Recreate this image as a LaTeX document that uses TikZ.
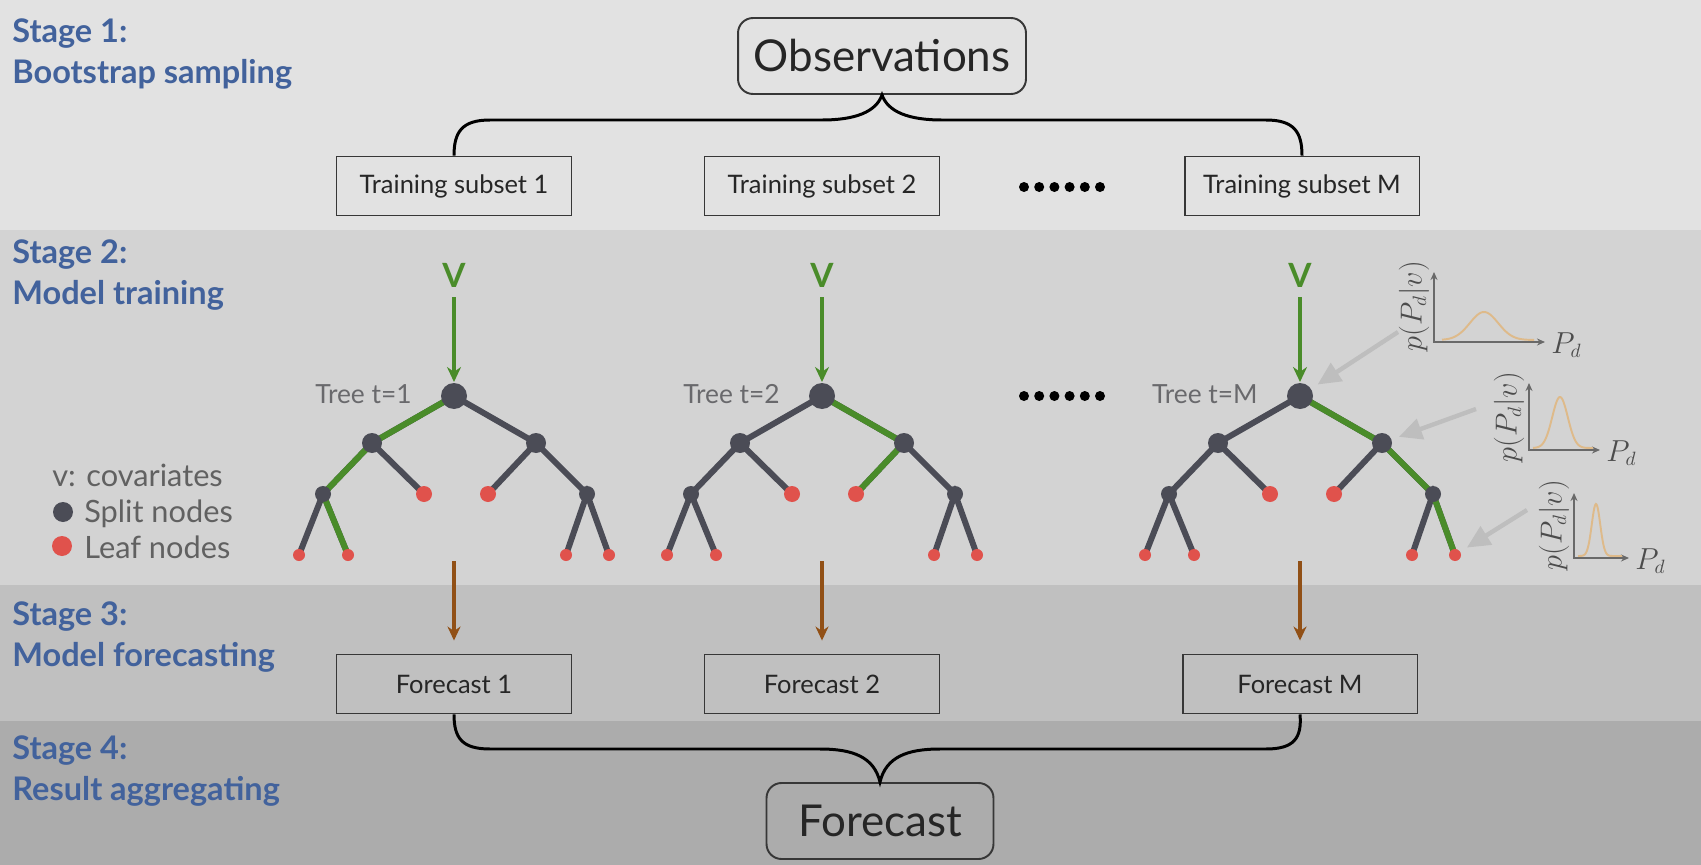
\documentclass[tikz,border=0pt]{standalone}
\usepackage{fontspec}
\setmainfont{Lato}
\usetikzlibrary{arrows.meta,positioning}

\definecolor{bandA}{RGB}{226,226,226}
\definecolor{bandB}{RGB}{211,211,211}
\definecolor{bandC}{RGB}{192,192,192}
\definecolor{bandD}{RGB}{172,172,172}
\definecolor{stageblue}{RGB}{66,98,156}
\definecolor{pathgreen}{RGB}{74,140,42}
\definecolor{splitgray}{RGB}{75,76,86}
\definecolor{leafred}{RGB}{224,82,76}
\definecolor{outbrown}{RGB}{145,80,22}
\definecolor{pointgray}{RGB}{190,190,190}
\definecolor{curvetan}{RGB}{222,186,138}
\definecolor{labelgray}{RGB}{105,105,108}
\definecolor{boxline}{RGB}{55,55,55}
\definecolor{axisgray}{RGB}{105,105,105}

\tikzset{
  stagelabel/.style={anchor=west, align=left, text=stageblue, font=\fontsize{18.5}{23}\selectfont\bfseries},
  subsetbox/.style={draw=boxline, line width=1.1pt, minimum width=4.7cm, minimum height=1.18cm, text=black!85, font=\fontsize{14.5}{17}\selectfont},
  roundbox/.style={subsetbox, rounded corners=0.3cm, minimum height=1.52cm, font=\fontsize{25}{30}\selectfont},
  edge/.style={splitgray, line width=3.4pt},
  hit/.style={pathgreen, line width=3.4pt, line join=round},
  brace/.style={black, line width=1.7pt},
  vlabel/.style={text=pathgreen, font=\fontsize{19}{22}\selectfont\bfseries},
  vin/.style={pathgreen, line width=2.2pt, -{Stealth[length=0.3cm, width=0.28cm]}, shorten <=0.2cm, shorten >=0.28cm},
  outarrow/.style={outbrown, line width=2pt, -{Stealth[length=0.28cm, width=0.26cm]}, shorten >=0.26cm},
  treelabel/.style={anchor=east, text=labelgray, font=\fontsize{15}{17}\selectfont},
  legendtext/.style={anchor=west, text=black!62, font=\fontsize{17.5}{20}\selectfont},
  axis/.style={axisgray, line width=1.1pt, {Stealth[length=0.16cm, width=0.14cm]}-{Stealth[length=0.16cm, width=0.14cm]}},
  axislabel/.style={text=black!70, font=\fontsize{16}{18}\selectfont},
  sidelabel/.style={axislabel, rotate=90, font=\fontsize{16}{18}\selectfont},
  curve/.style={curvetan, line width=1.1pt},
  pointer/.style={pointgray, line width=2.5pt, -{Triangle[length=0.46cm, width=0.42cm]}}
}

\begin{document}
\begin{tikzpicture}[x=0.02cm,y=0.02cm]
\tikzstyle{every node}+=[inner sep=0pt]
\useasboundingbox (0,0) rectangle (1701,-865);
\fill [bandA] (0,0) rectangle (1701,-230);
\fill [bandB] (0,-230) rectangle (1701,-585);
\fill [bandC] (0,-585) rectangle (1701,-721);
\fill [bandD] (0,-721) rectangle (1701,-865);

\node [stagelabel] (st1) at (12,-54) {Stage 1:\\Bootstrap sampling};
\node [stagelabel] (st2) at (12,-275) {Stage 2:\\Model training};
\node [stagelabel] (st3) at (12,-637) {Stage 3:\\Model forecasting};
\node [stagelabel] (st4) at (12,-771) {Stage 4:\\Result aggregating};

\node [roundbox, minimum width=5.76cm] (obs) at (882,-56) {Observations};
\node [subsetbox] (ts1) at (454,-186) {Training subset 1};
\node [subsetbox] (ts2) at (822,-186) {Training subset 2};
\node [subsetbox] (tsM) at (1302,-186) {Training subset M};
\draw [brace] (ts1.north) .. controls (454,-132) and (462,-120) .. (490,-120) -- (822,-120)
  .. controls (855,-120) and (876,-112) .. (obs.south)
  .. controls (888,-112) and (909,-120) .. (942,-120) -- (1266,-120)
  .. controls (1294,-120) and (1302,-132) .. (tsM.north);

\foreach \i in {0,...,5} {
  \fill (1024+15.2*\i,-187) circle (5);
  \fill (1024+15.2*\i,-396) circle (5);
}

\foreach \t/\x in {1/454, 2/822, M/1300} {
  \coordinate (r\t) at (\x,-396);
  \coordinate (a\t) at (\x-82,-443);
  \coordinate (b\t) at (\x+82,-443);
  \coordinate (aa\t) at (\x-131,-494);
  \coordinate (ab\t) at (\x-30,-494);
  \coordinate (ba\t) at (\x+34,-494);
  \coordinate (bb\t) at (\x+133,-494);
  \coordinate (aaa\t) at (\x-155,-555);
  \coordinate (aab\t) at (\x-106,-555);
  \coordinate (bba\t) at (\x+112,-555);
  \coordinate (bbb\t) at (\x+155,-555);
  \coordinate (o\t) at (\x,-561);
  \node [vlabel] (v\t) at (\x,-275) {V};
  \node [treelabel] (tree\t) at (\x-42,-394) {Tree t=\t};
  \node [subsetbox] (fc\t) at (\x,-684) {Forecast \t};
  \draw [vin] (v\t) -- (r\t);
  \draw [outarrow] (o\t) -- (fc\t.north);
  \draw [edge] (a\t) -- (r\t) -- (b\t) (aaa\t) -- (aa\t) -- (aab\t) (aa\t) -- (a\t) -- (ab\t)
    (ba\t) -- (b\t) -- (bb\t) (bba\t) -- (bb\t) -- (bbb\t);
}
\draw [hit] (r1) -- (a1) -- (aa1) -- (aab1);
\draw [hit] (r2) -- (b2) -- (ba2);
\draw [hit] (rM) -- (bM) -- (bbM) -- (bbbM);
\foreach \t in {1,2,M} {
  \fill [splitgray] (r\t) circle (13) (a\t) circle (10) (b\t) circle (10) (aa\t) circle (8) (bb\t) circle (8);
  \fill [leafred] (ab\t) circle (8) (ba\t) circle (8) (aaa\t) circle (6) (aab\t) circle (6) (bba\t) circle (6) (bbb\t) circle (6);
}

\node [legendtext] (cov) at (52,-475) {v: covariates};
\fill [splitgray] (63,-512) circle (10);
\node [legendtext] (splitlab) at (84,-514) {Split nodes};
\fill [leafred] (62,-546) circle (10);
\node [legendtext] (leaflab) at (84,-547) {Leaf nodes};

\draw [axis] (1434,-272) |- (1545,-342);
\draw [curve] plot [domain=8:100, samples=60] ({1434+\x},{-340+28*exp(-((\x-50)/20)*((\x-50)/20))});
\node [axislabel, anchor=west] (pd1) at (1551,-345) {$P_d$};
\node [sidelabel] (py1) at (1414,-306) {$p(P_d|v)$};

\draw [axis] (1529,-383) |- (1600,-450);
\draw [curve] plot [domain=4:64, samples=60] ({1529+\x},{-448+51*exp(-((\x-31)/11)*((\x-31)/11))});
\node [axislabel, anchor=west] (pd2) at (1606,-453) {$P_d$};
\node [sidelabel] (py2) at (1509,-417) {$p(P_d|v)$};

\draw [axis] (1574,-493) |- (1629,-558);
\draw [curve] plot [domain=4:48, samples=60] ({1574+\x},{-556+52*exp(-((\x-22)/6)*((\x-22)/6))});
\node [axislabel, anchor=west] (pd3) at (1635,-561) {$P_d$};
\node [sidelabel] (py3) at (1554,-525) {$p(P_d|v)$};

\coordinate (g1) at (1398,-332);
\coordinate (g2) at (1476,-409);
\coordinate (g3) at (1527,-510);
\draw [pointer, shorten >=0.42cm] (g1) -- (rM);
\draw [pointer, shorten >=0.36cm] (g2) -- (bM);
\draw [pointer, shorten >=0.28cm] (g3) -- (bbbM);

\node [roundbox, minimum width=4.54cm] (fcall) at (880,-821) {Forecast};
\draw [brace] (fc1.south) .. controls (454,-738) and (462,-749) .. (490,-749) -- (820,-749)
  .. controls (853,-749) and (874,-757) .. (fcall.north)
  .. controls (886,-757) and (907,-749) .. (940,-749) -- (1266,-749)
  .. controls (1294,-749) and (1302,-738) .. (fcM.south);
\end{tikzpicture}
\end{document}
